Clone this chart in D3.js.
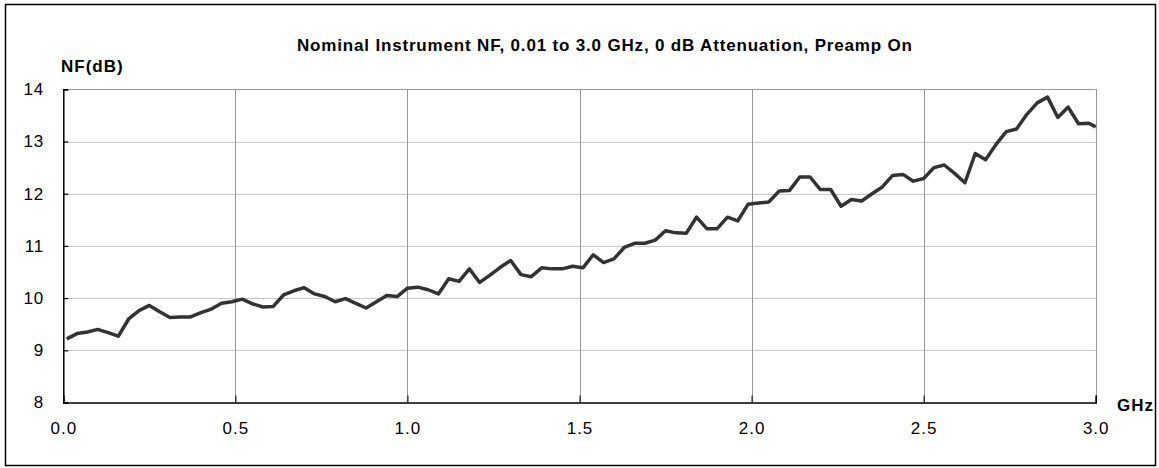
<!DOCTYPE html>
<html>
<head>
<meta charset="utf-8">
<script src="https://cdn.jsdelivr.net/npm/d3@7/dist/d3.min.js"></script>
<style>
  html, body { margin: 0; padding: 0; background: #fff; }
  svg { display: block; font-family: "Liberation Sans", Arial, sans-serif; }
</style>
</head>
<body>
<svg id="chart" width="1159" height="468"></svg>
<script>
// Frequencies (GHz)
const freqGHz = [0.01,0.04,0.07,0.10,0.13,0.16,0.19,0.22,0.25,0.28,
  0.31,0.34,0.37,0.40,0.43,0.46,0.49,0.52,0.55,0.58,
  0.61,0.64,0.67,0.70,0.73,0.76,0.79,0.82,0.85,0.88,
  0.91,0.94,0.97,1.00,1.03,1.06,1.09,1.12,1.15,1.18,
  1.21,1.24,1.27,1.30,1.33,1.36,1.39,1.42,1.45,1.48,
  1.51,1.54,1.57,1.60,1.63,1.66,1.69,1.72,1.75,1.78,
  1.81,1.84,1.87,1.90,1.93,1.96,1.99,2.02,2.05,2.08,
  2.11,2.14,2.17,2.20,2.23,2.26,2.29,2.32,2.35,2.38,
  2.41,2.44,2.47,2.50,2.53,2.56,2.59,2.62,2.65,2.68,
  2.71,2.74,2.77,2.80,2.83,2.86,2.89,2.92,2.95,2.98,3.00];
// Noise figure (dB)
const nfDB = [9.22,9.32,9.35,9.40,9.34,9.27,9.60,9.76,9.86,9.74,
  9.63,9.64,9.64,9.72,9.79,9.90,9.93,9.98,9.89,9.83,
  9.84,10.06,10.14,10.20,10.08,10.03,9.93,9.99,9.90,9.81,
  9.93,10.05,10.03,10.19,10.21,10.16,10.08,10.37,10.32,10.56,
  10.30,10.44,10.59,10.72,10.45,10.41,10.58,10.56,10.56,10.61,
  10.58,10.83,10.68,10.75,10.97,11.05,11.05,11.11,11.29,11.25,
  11.24,11.55,11.33,11.33,11.55,11.48,11.80,11.82,11.84,12.05,
  12.06,12.32,12.32,12.08,12.08,11.76,11.89,11.86,12.00,12.13,
  12.35,12.37,12.24,12.29,12.50,12.55,12.39,12.21,12.77,12.65,
  12.94,13.19,13.24,13.52,13.74,13.85,13.46,13.66,13.34,13.35,13.28];
const xTicks = [0.0,0.5,1.0,1.5,2.0,2.5,3.0];
const yTicks = [8,9,10,11,12,13,14];
const titleText = "Nominal Instrument NF, 0.01 to 3.0 GHz, 0 dB Attenuation, Preamp On";
const yLabel = "NF(dB)";
const xLabel = "GHz";

const svg = d3.select("#chart");
const pL = 63.3, pR = 1095.7, pT = 89.3, pB = 402.5;
const x = d3.scaleLinear().domain([0, 3]).range([pL, pR]);
const y = d3.scaleLinear().domain([8, 14]).range([pB, pT]);

// outer frame
svg.append("rect").attr("x", 5.5).attr("y", 4.5).attr("width", 1150).attr("height", 461)
  .attr("fill", "#fff").attr("stroke", "#000").attr("stroke-width", 1.5);

// horizontal grid
svg.append("g").selectAll("line").data(yTicks.filter(d => d > 8)).join("line")
  .attr("x1", pL).attr("x2", pR)
  .attr("y1", d => Math.round(y(d)) + 0.5).attr("y2", d => Math.round(y(d)) + 0.5)
  .attr("stroke", d => d === 14 ? "#999" : "#c8c8c8").attr("stroke-width", 1);

// vertical grid
svg.append("g").selectAll("line").data(xTicks.filter(d => d > 0)).join("line")
  .attr("x1", d => Math.round(x(d)) + 0.5).attr("x2", d => Math.round(x(d)) + 0.5)
  .attr("y1", pT).attr("y2", pB)
  .attr("stroke", "#999").attr("stroke-width", 1);

// axes
const yAxis = d3.axisLeft(y).tickValues(yTicks).tickSize(-5).tickPadding(19).tickFormat(d3.format("d"));
const gy = svg.append("g").attr("transform", `translate(${pL},0)`).call(yAxis);
gy.select(".domain").attr("stroke", "#000").attr("stroke-width", 1.5);
gy.selectAll(".tick line").attr("stroke", "#000").attr("stroke-width", 1.2);
gy.selectAll("text").attr("font-size", 17).attr("fill", "#000").attr("letter-spacing", 1)
  .attr("font-family", "Liberation Sans, Arial, sans-serif");

const xAxis = d3.axisBottom(x).tickValues(xTicks).tickSize(-7).tickPadding(19).tickFormat(d3.format(".1f"));
const gx = svg.append("g").attr("transform", `translate(0,${pB})`).call(xAxis);
gx.select(".domain").attr("stroke", "#000").attr("stroke-width", 1.5);
gx.selectAll(".tick line").attr("stroke", "#000").attr("stroke-width", 1);
gx.selectAll("text").attr("font-size", 17).attr("fill", "#000").attr("letter-spacing", 1)
  .attr("font-family", "Liberation Sans, Arial, sans-serif");

// line
const data = freqGHz.map((f, i) => [f, nfDB[i]]);
svg.append("path").datum(data)
  .attr("fill", "none").attr("stroke", "#333").attr("stroke-width", 3.5)
  .attr("stroke-linejoin", "round")
  .attr("d", d3.line().x(d => x(d[0])).y(d => y(d[1])));

// texts
svg.append("text").attr("x", 297).attr("y", 51)
  .attr("font-size", 17).attr("font-weight", "bold")
  .attr("textLength", 615).attr("lengthAdjust", "spacing").text(titleText);
svg.append("text").attr("x", 61).attr("y", 72).attr("font-size", 17).attr("letter-spacing", 1)
  .attr("font-weight", "bold").text(yLabel);
svg.append("text").attr("x", 1117).attr("y", 411).attr("font-size", 17).attr("letter-spacing", 1)
  .attr("font-weight", "bold").text(xLabel);
</script>
</body>
</html>
